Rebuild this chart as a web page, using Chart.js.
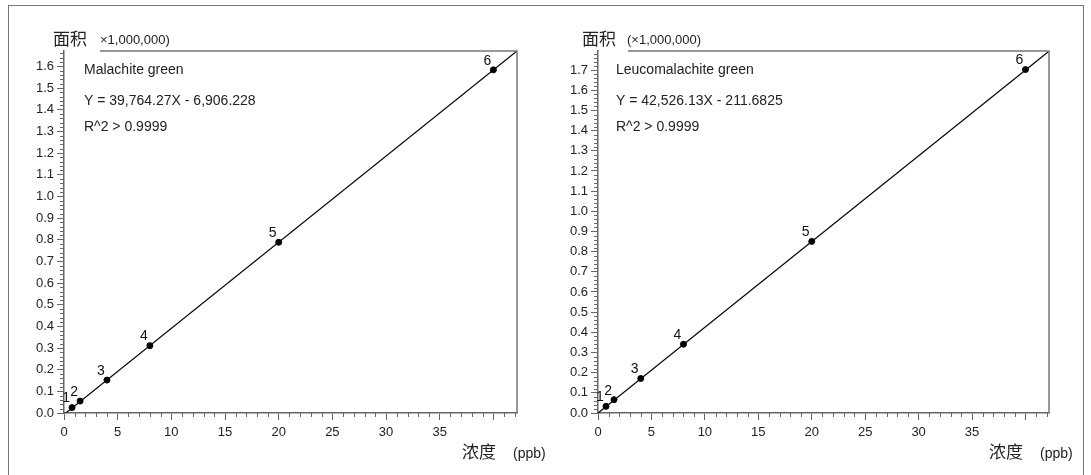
<!DOCTYPE html>
<html><head><meta charset="utf-8">
<script src="https://cdn.jsdelivr.net/npm/chart.js@4.4.1/dist/chart.umd.min.js"></script>
<style>
html,body{margin:0;padding:0;background:#fff;width:1091px;height:475px;overflow:hidden;}
#frame{position:absolute;left:8px;top:5px;width:1076px;height:490px;border:1px solid #777;box-sizing:border-box;}
canvas{position:absolute;top:0;}
#c1{left:0px}
#c2{left:534px}
</style></head><body>
<div id="frame"></div>
<canvas id="c1" width="545" height="475"></canvas>
<canvas id="c2" width="545" height="475"></canvas>
<script>
// ---- data ----
const pointLabels = ['1','2','3','4','5','6'];
const concMG  = [0.75, 1.5, 4, 8, 20, 40];
const areaMG  = [0.025, 0.055, 0.152, 0.311, 0.788, 1.584];
const fitXMG  = [0, 42.2];
const fitYMG  = [-0.0069, 1.671];
const concLMG = [0.75, 1.5, 4, 8, 20, 40];
const areaLMG = [0.033, 0.066, 0.171, 0.341, 0.851, 1.703];
const fitXLMG = [0, 42.2];
const fitYLMG = [-0.0002, 1.794];
const xMax = 42.2;
const yMaxMG = 1.671;
const yMaxLMG = 1.795;
const yTitle = '面积';
const xTitle = '浓度';
const xUnit = '(ppb)';

const LAT = "'Liberation Sans', Arial, sans-serif";
const CJK = "'Noto Sans CJK SC', sans-serif";

const deco = {
  id: 'deco',
  afterDraw(chart, args, o) {
    const ctx = chart.ctx, a = chart.chartArea, xs = chart.scales.x, ys = chart.scales.y;
    ctx.save();
    // minor ticks
    ctx.strokeStyle = '#666'; ctx.lineWidth = 1;
    ctx.beginPath();
    const ny = Math.floor(ys.max / 0.02 + 1e-6);
    for (let i = 1; i <= ny; i++) {
      if (i % 5 === 0) continue;
      const y = Math.round(ys.getPixelForValue(i * 0.02)) + 0.5;
      ctx.moveTo(a.left - 4, y); ctx.lineTo(a.left, y);
    }
    const nx = Math.floor(xs.max);
    for (let i = 1; i <= nx; i++) {
      if (i % 5 === 0) continue;
      const x = Math.round(xs.getPixelForValue(i)) + 0.5;
      ctx.moveTo(x, a.bottom); ctx.lineTo(x, a.bottom + 4);
    }
    ctx.stroke();
    // frame top & right
    ctx.strokeStyle = '#777'; ctx.lineWidth = 1.5;
    ctx.beginPath();
    ctx.moveTo(o.frameStart, a.top); ctx.lineTo(a.right, a.top); ctx.lineTo(a.right, a.bottom);
    ctx.stroke();
    // point labels
    const meta = chart.getDatasetMeta(1);
    ctx.fillStyle = '#111';
    ctx.font = '14px ' + LAT;
    ctx.textAlign = 'center'; ctx.textBaseline = 'middle';
    meta.data.forEach((p, i) => { ctx.fillText(pointLabels[i], p.x - 6, p.y - 9); });
    // texts
    ctx.textAlign = 'left';
    ctx.fillStyle = '#222';
    ctx.font = '17px ' + CJK;
    ctx.fillText(yTitle, o.yTitleX, 39);
    ctx.font = '13px ' + LAT;
    ctx.fillText(o.unit, o.unitX, 40);
    ctx.font = '14px ' + LAT;
    ctx.fillText(o.name, o.textX, 70);
    ctx.fillText(o.eq, o.textX, 101);
    ctx.fillText('R^2 > 0.9999', o.textX, 127);
    ctx.font = '17px ' + CJK;
    ctx.fillText(xTitle, o.xTitleX, 452);
    ctx.font = '14px ' + LAT;
    ctx.fillText(xUnit, o.xTitleX + 51, 454);
    ctx.restore();
  }
};

function makeChart(id, conc, area, fitX, fitY, yMax, padRight, o) {
  const pts = conc.map((c, i) => ({ x: c, y: area[i] }));
  const fit = fitX.map((c, i) => ({ x: c, y: fitY[i] }));
  return new Chart(document.getElementById(id), {
    type: 'scatter',
    data: {
      datasets: [
        { type: 'line', data: fit, borderColor: '#000', borderWidth: 1.2, pointRadius: 0, fill: false },
        { data: pts, backgroundColor: '#000', borderColor: '#000', pointRadius: 3, pointStyle: 'circle' }
      ]
    },
    options: {
      responsive: false, animation: false, devicePixelRatio: 1,
      layout: { padding: { top: 51, left: 0, right: padRight, bottom: 0 } },
      plugins: { legend: { display: false }, tooltip: { enabled: false }, deco: o },
      scales: {
        x: {
          type: 'linear', min: 0, max: xMax,
          afterFit(s) { s.height = 62; },
          border: { display: true, color: '#666', width: 1.5 },
          grid: { drawOnChartArea: false, drawTicks: true, tickLength: 7, color: '#666' },
          ticks: { stepSize: 5, includeBounds: false, autoSkip: false, maxRotation: 0, padding: 5,
                   color: '#222', font: { family: LAT, size: 13 },
                   callback: v => (v === 40 ? '' : String(v)) }
        },
        y: {
          type: 'linear', min: 0, max: yMax,
          afterFit(s) { s.width = 64; },
          border: { display: true, color: '#666', width: 1.5 },
          grid: { drawOnChartArea: false, drawTicks: true, tickLength: 7, color: '#666' },
          ticks: { stepSize: 0.1, includeBounds: false, autoSkip: false, maxTicksLimit: 100, padding: 3,
                   color: '#222', font: { family: LAT, size: 13 },
                   callback: v => Number(v).toFixed(1) }
        }
      }
    },
    plugins: [deco]
  });
}

makeChart('c1', concMG, areaMG, fitXMG, fitYMG, yMaxMG, 28, {
  frameStart: 100, yTitleX: 53, unit: '×1,000,000)', unitX: 100,
  name: 'Malachite green', eq: 'Y = 39,764.27X - 6,906.228', textX: 84, xTitleX: 462
});
makeChart('c2', concLMG, areaLMG, fitXLMG, fitYLMG, yMaxLMG, 30, {
  frameStart: 94, yTitleX: 48, unit: '(×1,000,000)', unitX: 93,
  name: 'Leucomalachite green', eq: 'Y = 42,526.13X - 211.6825', textX: 82, xTitleX: 455
});
</script>
</body></html>
